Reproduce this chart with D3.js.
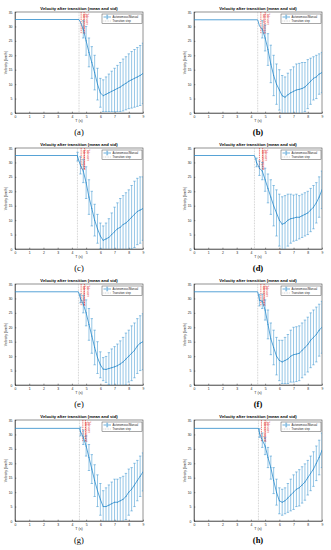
<!DOCTYPE html>
<html>
<head>
<meta charset="utf-8" />
<style>
  body { margin: 0; background: #fff; }
  svg { display: block; font-family: "Liberation Sans", Arial, sans-serif; }
  .axis path, .axis line { stroke: #262626; stroke-width: 0.5; }
  .axis text { font-size: 3.4px; fill: #262626; }
</style>
</head>
<body>
<svg id="chart" width="331" height="550"></svg>
<script src="https://cdn.jsdelivr.net/npm/d3@7/dist/d3.min.js"></script>
<script>
// time steps after the flat phase (s)
var steps = [4.4, 4.6, 4.8, 5.0, 5.2, 5.4, 5.6, 5.8, 6.0, 6.2, 6.4, 6.6, 6.8, 7.0, 7.2, 7.4, 7.6, 7.8, 8.0, 8.2, 8.4, 8.6, 8.8, 9.0];
var xTicks = [0, 1, 2, 3, 4, 5, 6, 7, 8, 9];
var yTicks = [0, 5, 10, 15, 20, 25, 30, 35];

var panelLabels = ['(a)', '(b)', '(c)', '(d)', '(e)', '(f)', '(g)', '(h)'];
var flatSpeed = [32.4, 32.3, 32.4, 32.4, 32.3, 32.3, 32.1, 32.1];
var transT = [4.5, 4.48, 4.39, 4.25, 4.46, 4.48, 4.53, 4.53];
var markT = [[4.65, 4.86], [4.7, 5.0], [4.65, 4.89], [4.6, 4.83], [4.65, 4.88], [4.7, 4.93], [4.77, 4.95], [4.74, 5.0]];

var meanA = [32.4, 31.5, 29, 25, 21, 17.5, 14, 10, 7, 6, 6.5, 7, 7.5, 8, 8.5, 9, 9.7, 10.3, 11, 11.5, 12, 12.5, 13, 13.7];
var stdA  = [0, 0, 3, 5, 5, 5.5, 6, 5.5, 5, 5.5, 6, 6.5, 7, 7.5, 8, 8.5, 9, 9.2, 9.5, 9.8, 10, 10.2, 10.4, 10.5];
var meanB = [32.3, 30.2, 29, 26, 22, 17, 13, 10, 8, 6, 5.5, 6.3, 7, 7.5, 8, 8.2, 8.5, 9, 10, 11, 12, 12.5, 13.5, 14];
var stdB  = [0, 0, 3, 4.5, 5.5, 6.5, 7, 7, 7, 7, 7, 7.5, 8, 8.5, 9, 9, 9, 8.5, 8.5, 8, 7.5, 7.5, 7, 7];
var meanC = [32, 29, 27, 23, 18, 14, 10, 7, 4.5, 3, 3.5, 4, 5, 6, 7, 7.5, 8.5, 9, 10, 11, 12, 13, 13.5, 14];
var stdC  = [1.5, 3, 4, 5.5, 6, 6, 5.5, 5, 4.5, 5, 5.5, 6.5, 7.5, 8.5, 9, 10, 10, 10.5, 10.5, 11, 11.5, 11.5, 11.5, 11];
var meanD = [30, 28, 27, 24, 21, 18, 15, 12.5, 10, 8.6, 9, 10, 10.5, 10.7, 11, 11, 11.5, 12, 12.5, 13.5, 14.5, 16, 18, 20.5];
var stdD  = [1.5, 2.5, 3, 4, 5, 6, 7, 8, 9, 9.5, 9.5, 9, 8.5, 8, 8, 7.5, 7.5, 7.5, 7.5, 7.5, 7.5, 7, 7, 6.5];
var meanE = [32.3, 30, 28, 25, 21, 17, 13, 9.5, 7, 5.5, 5.4, 5.7, 6, 6.3, 6.7, 7.3, 8, 9, 10, 11, 12, 13.5, 14.5, 15];
var stdE  = [0, 1.5, 3, 4.5, 5.5, 6, 6, 5.5, 4.5, 4, 4.5, 5.5, 6.5, 7, 7.5, 8, 8.5, 9, 9, 9.5, 9.5, 9.5, 9.5, 9.7];
var meanF = [32.3, 29.4, 29, 26, 21, 16, 13, 10, 8.5, 8, 8.5, 9, 10, 10.5, 10.7, 11, 12, 13, 14, 15.5, 16.5, 17.5, 19, 20];
var stdF  = [0, 2, 2.5, 3.5, 5, 5.5, 6, 6.5, 7, 7.5, 8, 8.5, 9, 9.5, 9.5, 9.5, 9.5, 9.5, 9.5, 9.5, 9.5, 9.5, 9, 9];
var meanG = [32.1, 31, 29, 26, 22, 18, 14, 10.5, 7.5, 5, 5, 5.5, 6, 6.5, 6.5, 7, 7.5, 8.5, 10, 11, 12.5, 14, 15.5, 17];
var stdG  = [0, 1.5, 2.5, 3.5, 4.5, 5, 5.5, 5.5, 5.5, 5.5, 6.5, 7, 7.5, 8, 8, 8, 8, 8, 8, 7.5, 7.5, 7, 7, 6.6];
var meanH = [32.1, 30.5, 28, 26, 22, 18.5, 14, 10, 7, 6.5, 7, 8, 9, 10, 11, 11.5, 12.5, 13.5, 15, 16.5, 18, 20, 22, 24.5];
var stdH  = [0, 1.5, 2.5, 3, 3.5, 4, 4.5, 4.5, 4.5, 4.5, 4.5, 5, 5.5, 6, 6, 6.3, 6.3, 6.3, 6, 6, 6, 6, 6, 6];

var means = [meanA, meanB, meanC, meanD, meanE, meanF, meanG, meanH];
var stds = [stdA, stdB, stdC, stdD, stdE, stdF, stdG, stdH];

var colX = [15, 194];
var rowY = [12, 148, 284, 420];
var plotW = 128, plotH = 101;
var blue = '#2c8ccc';
var svg = d3.select('#chart');

panelLabels.forEach(function (lab, i) {
  var col = i % 2, row = Math.floor(i / 2);
  var left = colX[col], top = rowY[row];
  var x = d3.scaleLinear().domain([0, 9]).range([left, left + plotW]);
  var y = d3.scaleLinear().domain([0, 35]).range([top + plotH, top]);
  var g = svg.append('g');

  g.append('clipPath').attr('id', 'clip' + i)
    .append('rect').attr('x', left).attr('y', top).attr('width', plotW).attr('height', plotH);

  // axes with inward ticks
  g.append('g').attr('class', 'axis')
    .attr('transform', 'translate(0,' + (top + plotH) + ')')
    .call(d3.axisBottom(x).tickValues(xTicks).tickSizeInner(-1.3).tickSizeOuter(0).tickPadding(2.5).tickFormat(d3.format('d')));
  g.append('g').attr('class', 'axis')
    .attr('transform', 'translate(' + left + ',0)')
    .call(d3.axisLeft(y).tickValues(yTicks).tickSizeInner(-1.3).tickSizeOuter(0).tickPadding(2.5).tickFormat(d3.format('d')));
  g.append('rect').attr('x', left).attr('y', top).attr('width', plotW).attr('height', plotH)
    .attr('fill', 'none').attr('stroke', '#262626').attr('stroke-width', 0.5);

  // titles and labels
  g.append('text').attr('x', left + plotW / 2).attr('y', top - 2.5)
    .attr('text-anchor', 'middle').attr('font-size', 4.2).attr('font-weight', 'bold')
    .text('Velocity after transition (mean and std)');
  g.append('text').attr('x', left + plotW / 2).attr('y', top + plotH + 8.5)
    .attr('text-anchor', 'middle').attr('font-size', 3.6).attr('fill', '#262626').text('T (s)');
  g.append('text').attr('transform', 'translate(' + (left - 8) + ',' + (top + plotH / 2) + ') rotate(-90)')
    .attr('text-anchor', 'middle').attr('font-size', 3.6).attr('fill', '#262626').text('Velocity (km/h)');
  g.append('text').attr('x', left + plotW / 2).attr('y', top + plotH + 22)
    .attr('text-anchor', 'middle').attr('font-family', '"Liberation Serif", serif')
    .attr('font-size', 8.5).attr('font-weight', col === 1 ? 'bold' : 'normal').text(lab);

  // transition step line
  g.append('line').attr('x1', x(transT[i])).attr('x2', x(transT[i]))
    .attr('y1', top).attr('y2', top + plotH)
    .attr('stroke', '#9a9a9a').attr('stroke-width', 0.5).attr('stroke-dasharray', '0.8,0.8');

  // red event markers
  markT[i].forEach(function (t, k) {
    g.append('line').attr('x1', x(t)).attr('x2', x(t))
      .attr('y1', y(35)).attr('y2', y(27.5))
      .attr('stroke', '#e0201b').attr('stroke-width', 0.6).attr('stroke-dasharray', '1.4,0.8');
    g.append('text').attr('transform', 'translate(' + (x(t) + 2.2) + ',' + y(34.6) + ') rotate(90)')
      .attr('font-size', 2.6).attr('fill', '#e0201b')
      .text(k === 0 ? 'Take-over request' : 'Take-over');
  });

  // data points: flat phase then steps after the transition
  var pts = [{ t: 0, m: flatSpeed[i], s: 0 }, { t: transT[i], m: flatSpeed[i], s: 0 }];
  steps.forEach(function (t, k) {
    if (t > transT[i]) pts.push({ t: t, m: means[i][k], s: stds[i][k] });
  });

  var line = d3.line().x(function (d) { return x(d.t); }).y(function (d) { return y(d.m); });
  var data = g.append('g').attr('clip-path', 'url(#clip' + i + ')');
  var bars = pts.filter(function (d) { return d.s > 0; });
  data.selectAll('.eb').data(bars).enter().append('path')
    .attr('d', function (d) {
      var cx = x(d.t), y1 = y(d.m + d.s), y2 = y(d.m - d.s);
      return 'M' + cx + ',' + y1 + 'V' + y2 +
        'M' + (cx - 1.2) + ',' + y1 + 'H' + (cx + 1.2) +
        'M' + (cx - 1.2) + ',' + y2 + 'H' + (cx + 1.2);
    })
    .attr('fill', 'none').attr('stroke', blue).attr('stroke-width', 0.5);
  data.append('path').datum(pts).attr('d', line)
    .attr('fill', 'none').attr('stroke', blue).attr('stroke-width', 0.8);
  data.selectAll('.mk').data(bars).enter().append('circle')
    .attr('cx', function (d) { return x(d.t); }).attr('cy', function (d) { return y(d.m); })
    .attr('r', 0.5).attr('fill', blue);

  // legend
  var lx = left + plotW - 41, ly = top + 2;
  var lg = g.append('g');
  lg.append('rect').attr('x', lx).attr('y', ly).attr('width', 40).attr('height', 9.5)
    .attr('fill', '#fff').attr('stroke', '#262626').attr('stroke-width', 0.4);
  lg.append('line').attr('x1', lx + 1.5).attr('x2', lx + 9).attr('y1', ly + 3).attr('y2', ly + 3)
    .attr('stroke', blue).attr('stroke-width', 0.7);
  lg.append('path').attr('d', 'M' + (lx + 5.2) + ',' + (ly + 1.2) + 'V' + (ly + 4.8) +
      'M' + (lx + 4.2) + ',' + (ly + 1.2) + 'H' + (lx + 6.2) + 'M' + (lx + 4.2) + ',' + (ly + 4.8) + 'H' + (lx + 6.2))
    .attr('stroke', blue).attr('stroke-width', 0.5).attr('fill', 'none');
  lg.append('line').attr('x1', lx + 1.5).attr('x2', lx + 9).attr('y1', ly + 7).attr('y2', ly + 7)
    .attr('stroke', '#9a9a9a').attr('stroke-width', 0.5).attr('stroke-dasharray', '0.8,0.8');
  lg.append('text').attr('x', lx + 10.5).attr('y', ly + 4).attr('font-size', 2.8).attr('fill', '#262626')
    .text('Autonomous/Manual');
  lg.append('text').attr('x', lx + 10.5).attr('y', ly + 8).attr('font-size', 2.8).attr('fill', '#262626')
    .text('Transition step');
});
</script>
</body>
</html>
